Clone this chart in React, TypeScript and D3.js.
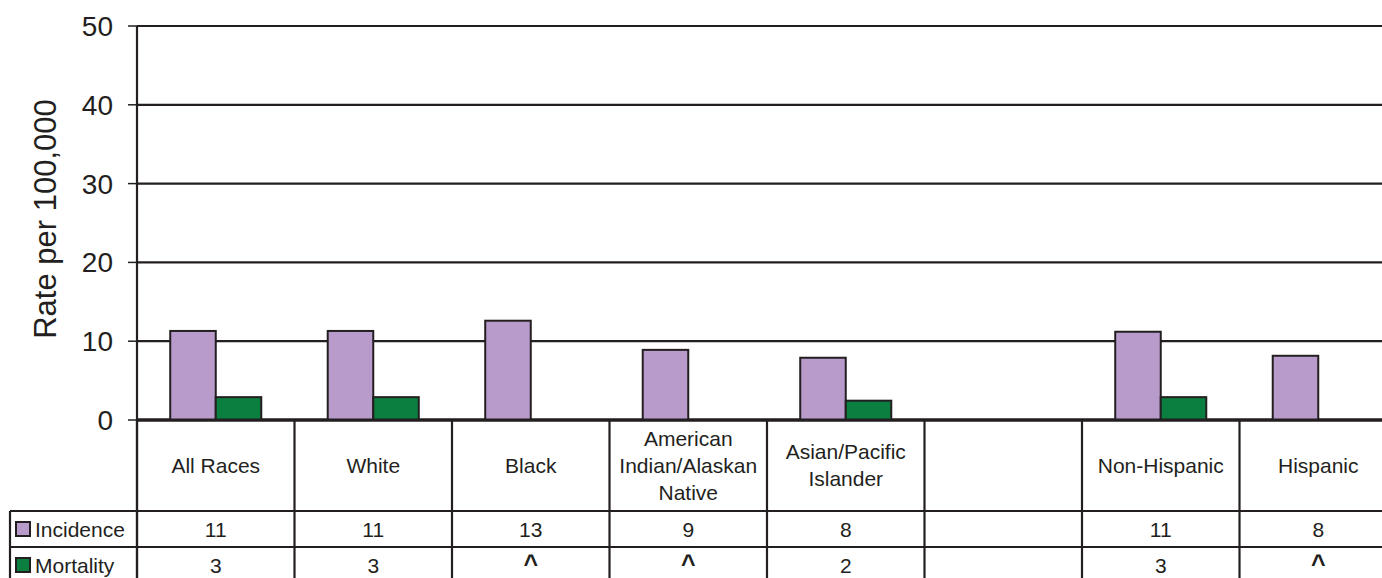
import React from "react";
import * as d3 from "d3";

const categories: string[][] = [
  ["All Races"],
  ["White"],
  ["Black"],
  ["American", "Indian/Alaskan", "Native"],
  ["Asian/Pacific", "Islander"],
  [],
  ["Non-Hispanic"],
  ["Hispanic"],
];
const incidence: (number | null)[] = [11.3, 11.3, 12.6, 8.9, 7.9, null, 11.2, 8.15];
const mortality: (number | null)[] = [2.9, 2.9, null, null, 2.45, null, 2.9, null];
const incidenceLabels: string[] = ["11", "11", "13", "9", "8", "", "11", "8"];
const mortalityLabels: string[] = ["3", "3", "^", "^", "2", "", "3", "^"];
const seriesNames = ["Incidence", "Mortality"];
const yTicks = [0, 10, 20, 30, 40, 50];

const W = 1382;
const H = 578;
const FONT = "'Liberation Sans', Arial, sans-serif";
const INK = "#231f20";
const COLORS = ["#b99bcb", "#0b7f3f"];

export default function App() {
  const left = 137;
  const slotW = 157.5;
  const x = d3
    .scaleBand<number>()
    .domain(categories.map((_, i) => i))
    .range([left, left + slotW * categories.length])
    .padding(0);
  const xs = d3
    .scaleBand<string>()
    .domain(seriesNames)
    .range([0, x.bandwidth()])
    .paddingInner(0)
    .paddingOuter(0.73);
  const y = d3.scaleLinear().domain([0, 50]).range([420, 26]);

  const headerBottom = 511;
  const incBottom = 547;
  const mortBottom = 583;
  const boundaries = categories.map((_, i) => x(i)!).concat([left + slotW * categories.length]);
  const FS = 21;

  return (
    <svg
      width={W}
      height={H}
      style={{ position: "absolute", left: 0, top: 0, background: "#fff" }}
      fontFamily={FONT}
    >
      <rect x={0} y={0} width={W} height={H} fill="#fff" />
      {yTicks.map((t) => (
        <g key={t}>
          <line x1={left} x2={W} y1={y(t)} y2={y(t)} stroke={INK} strokeWidth={t === 0 ? 3 : 2.2} />
          <line x1={128} x2={left} y1={y(t)} y2={y(t)} stroke={INK} strokeWidth={1.5} />
          <text x={113} y={y(t)} dy="0.36em" textAnchor="end" fontSize={28} fill={INK}>
            {t}
          </text>
        </g>
      ))}
      <line x1={left} x2={left} y1={y(50)} y2={mortBottom} stroke={INK} strokeWidth={2.2} />
      <text
        transform={`translate(56,219) rotate(-90)`}
        textAnchor="middle"
        fontSize={31}
        fill={INK}
      >
        Rate per 100,000
      </text>
      {categories.map((_, i) => {
        const vals = [incidence[i], mortality[i]];
        return vals.map((v, j) =>
          v == null ? null : (
            <rect
              key={`${i}-${j}`}
              x={x(i)! + xs(seriesNames[j])!}
              y={y(v)}
              width={xs.bandwidth()}
              height={y(0) - y(v)}
              fill={COLORS[j]}
              stroke={INK}
              strokeWidth={2}
            />
          )
        );
      })}
      <line x1={left} x2={W} y1={y(0)} y2={y(0)} stroke={INK} strokeWidth={3} />
      {boundaries.map((b, i) => (
        <line key={i} x1={b} x2={b} y1={y(0)} y2={mortBottom} stroke={INK} strokeWidth={2.2} />
      ))}
      <line x1={10} x2={W} y1={headerBottom} y2={headerBottom} stroke={INK} strokeWidth={2.2} />
      <line x1={10} x2={W} y1={incBottom} y2={incBottom} stroke={INK} strokeWidth={2.2} />
      <line x1={10} x2={10} y1={headerBottom} y2={mortBottom} stroke={INK} strokeWidth={2.2} />
      {categories.map((lines, i) => {
        const cx = x(i)! + x.bandwidth() / 2;
        const lh = 27;
        const start = 465 - ((lines.length - 1) * lh) / 2;
        return (
          <text key={i} textAnchor="middle" fontSize={FS} fill={INK}>
            {lines.map((l, k) => (
              <tspan key={k} x={cx} y={start + k * lh} dy="0.36em">
                {l}
              </tspan>
            ))}
          </text>
        );
      })}
      {seriesNames.map((s, j) => {
        const cy = j === 0 ? 529 : 565;
        return (
          <g key={s}>
            <rect x={16} y={cy - 7} width={14} height={14} fill={COLORS[j]} stroke={INK} strokeWidth={2} />
            <text x={35} y={cy} dy="0.36em" fontSize={FS} fill={INK}>
              {s}
            </text>
          </g>
        );
      })}
      {categories.map((_, i) => {
        const cx = x(i)! + x.bandwidth() / 2;
        const m = mortalityLabels[i];
        return (
          <g key={i}>
            <text x={cx} y={529} dy="0.36em" textAnchor="middle" fontSize={FS} fill={INK}>
              {incidenceLabels[i]}
            </text>
            {m === "^" ? (
              <text x={cx} y={573} textAnchor="middle" fontSize={25} fontWeight="bold" fill={INK}>
                {m}
              </text>
            ) : (
              <text x={cx} y={565} dy="0.36em" textAnchor="middle" fontSize={FS} fill={INK}>
                {m}
              </text>
            )}
          </g>
        );
      })}
    </svg>
  );
}
